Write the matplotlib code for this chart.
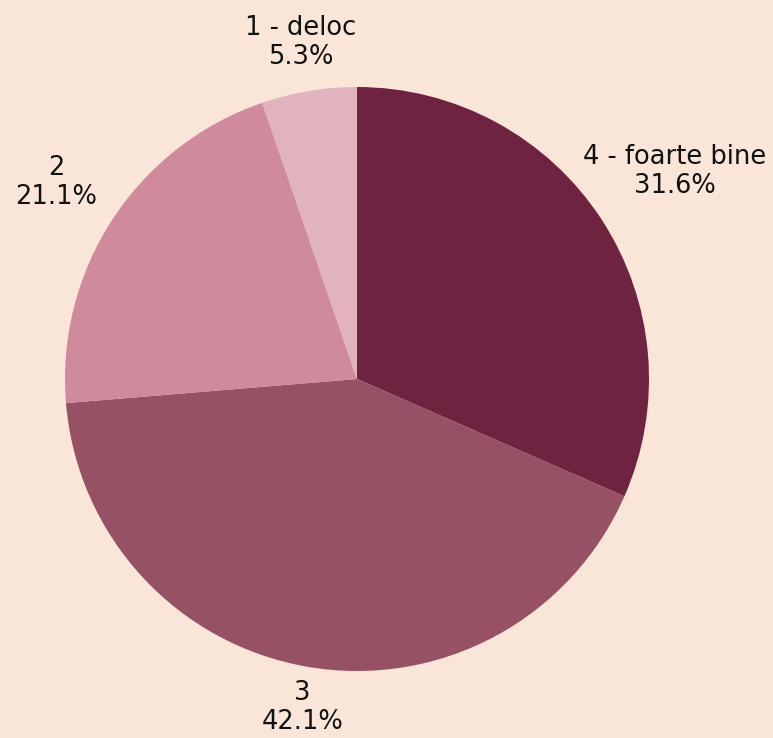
import numpy as np
import matplotlib
matplotlib.use('Agg')
import matplotlib.pyplot as plt

# raspunsuri (din 19)
labels = ['4 - foarte bine', '3', '2', '1 - deloc']
counts = [6, 8, 4, 1]
colors = ['#6e2340', '#965165', '#cf8a9b', '#e1b3bd']
label_dist = [1.30, 1.14, 1.23, 1.17]  # distanta etichetelor fata de centru

bg = '#fae6d8'
fig = plt.figure(figsize=(7.73, 7.38), dpi=100, facecolor=bg)
ax = fig.add_axes([0, 0, 1, 1])
ax.set_facecolor(bg)

cx, cy, r = 357, 738 - 379, 292
wedges, _ = ax.pie(counts, colors=colors, startangle=90, counterclock=False,
                   center=(cx, cy), radius=r, frame=True,
                   wedgeprops=dict(linewidth=0, antialiased=True))
ax.set_xlim(0, 773)
ax.set_ylim(0, 738)
ax.set_aspect('equal')
ax.axis('off')

total = sum(counts)
for w, lab, c, d in zip(wedges, labels, counts, label_dist):
    ang = np.deg2rad((w.theta1 + w.theta2) / 2)
    x = cx + d * r * np.cos(ang)
    y = cy + d * r * np.sin(ang)
    ax.text(x, y, '%s\n%.1f%%' % (lab, 100.0 * c / total), ha='center', va='center',
            fontsize=18.5, color='#111111', linespacing=1.15)

fig.savefig('out.png', dpi=100, facecolor=bg)
